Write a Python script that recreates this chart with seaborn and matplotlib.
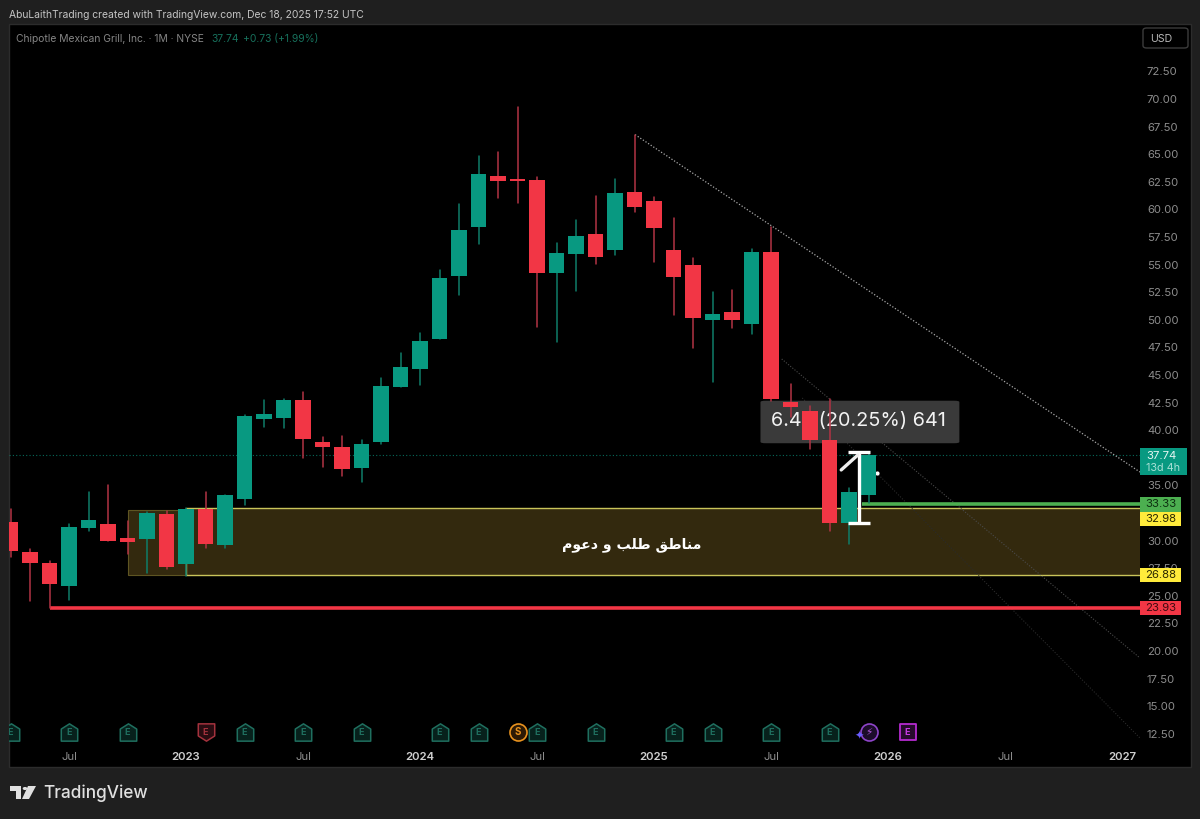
import numpy as np
import pandas as pd
import matplotlib.pyplot as plt
from matplotlib.patches import Rectangle, FancyBboxPatch, Polygon, Circle
from matplotlib.path import Path
import seaborn as sns

# monthly candles, month 0 = Jan 2022
months = list(range(3, 48))
opens = [31.68, 28.97, 27.95, 25.92, 31.12, 31.5, 30.24, 30.12, 32.41, 27.91, 32.86, 29.57,
         33.8, 41.01, 41.1, 42.74, 38.93, 38.51, 36.55, 38.93, 43.91, 45.52, 48.23, 53.94,
         58.38, 63.03, 62.75, 62.69, 54.24, 55.96, 57.74, 56.3, 61.55, 60.76, 56.32, 55.0,
         49.96, 50.68, 49.62, 56.14, 42.58, 41.74, 39.11, 31.57, 34.13]
highs = [32.86, 29.24, 28.18, 31.47, 34.43, 35.04, 31.78, 32.62, 32.71, 32.95, 34.43, 34.1,
         41.35, 42.74, 42.85, 43.46, 39.41, 39.47, 39.11, 44.76, 46.97, 48.79, 54.51, 60.49,
         64.84, 65.2, 69.3, 62.96, 56.98, 59.04, 61.24, 62.75, 66.77, 61.15, 59.19, 55.63,
         52.49, 52.67, 56.44, 58.38, 44.18, 42.2, 42.8, 34.74, 37.9]
lows = [28.51, 24.53, 23.93, 24.62, 30.9, 29.96, 28.76, 27.1, 27.4, 26.82, 29.3, 29.36,
        33.22, 40.26, 40.17, 37.45, 36.7, 35.85, 35.34, 38.75, 43.91, 44.07, 48.23, 52.25,
        56.87, 61.06, 60.58, 49.38, 47.96, 52.61, 55.03, 55.87, 59.76, 55.26, 50.46, 47.47,
        44.39, 49.26, 48.69, 42.6, 41.22, 38.3, 30.9, 29.72, 33.38]
closes = [29.06, 27.97, 26.05, 31.2, 31.87, 29.96, 29.9, 32.47, 27.64, 32.83, 29.72, 34.1,
          41.31, 41.47, 42.74, 39.18, 38.48, 36.51, 38.78, 44.0, 45.7, 48.11, 53.76, 58.11,
          63.21, 62.55, 62.6, 54.27, 56.05, 57.59, 55.72, 61.51, 60.24, 58.32, 53.91, 50.14,
          50.5, 50.0, 56.14, 42.83, 42.08, 39.11, 31.6, 34.43, 37.74]

# 32.50 and 37.50 sit behind the price tags in the reference
price_ticks = [12.5, 15, 17.5, 20, 22.5, 25, 27.5, 30, 35, 40, 42.5, 45, 47.5,
               50, 52.5, 55, 57.5, 60, 62.5, 65, 67.5, 70, 72.5]
time_ticks = [6, 12, 18, 24, 30, 36, 42, 48, 54, 60]
time_labels = ['Jul', '2023', 'Jul', '2024', 'Jul', '2025', 'Jul', '2026', 'Jul', '2027']

last_price = 37.74
zone_top, zone_bottom = 32.98, 26.88
zone_outer_top, zone_outer_bottom = 32.8, 26.85
green_level, red_level = 33.33, 23.93
measure_low, measure_high = 31.59, 38.06

earnings_up = [3, 6, 9, 15, 18, 21, 25, 27, 30, 33, 37, 39, 42, 45]
earnings_down = [13]
event_level = 12.7

GREEN = '#089981'
RED = '#f23645'
BG = '#1f1f1f'
GREY = '#8c8c8c'

sns.set_theme(style='dark')
plt.rcParams['font.family'] = ['Inter', 'DejaVu Sans']

df = pd.DataFrame({'month': months, 'open': opens, 'high': highs, 'low': lows, 'close': closes})
df['body_low'] = df[['open', 'close']].min(axis=1)
df['height'] = (df['close'] - df['open']).abs()
up = df[df['close'] >= df['open']]
down = df[df['close'] < df['open']]

fig = plt.figure(figsize=(12, 8.19), dpi=100, facecolor=BG)
fig.add_artist(Rectangle((9 / 1200, 1 - 767 / 819), 1182 / 1200, 743 / 819, transform=fig.transFigure,
                         fc='black', ec='#2c2c2c', lw=1, zorder=-5))
ax = fig.add_axes([9 / 1200, 1 - 745 / 819, 1131 / 1200, 721 / 819], facecolor='none')

# zone behind the candles
zone_fill = '#33290e'
ax.add_patch(Rectangle((9, zone_outer_bottom), 3.2, zone_outer_top - zone_outer_bottom,
                       fc=zone_fill, ec='#5e5522', lw=0.8, zorder=1))
ax.add_patch(Rectangle((12, zone_bottom), 60, zone_top - zone_bottom,
                       fc=zone_fill, ec='#c9c45a', lw=1, zorder=1.2))

ax.axhline(last_price, color=GREEN, lw=0.8, ls=(0, (1, 2)), alpha=0.7, zorder=1.5)
ax.plot([5, 62], [red_level, red_level], color=RED, lw=2.6, solid_capstyle='butt', zorder=3)
ax.plot([46.65, 62], [green_level, green_level], color='#4caf50', lw=2.6, solid_capstyle='butt', zorder=3)

# trend lines
ax.plot([35.03, 60.92], [66.77, 36.21], color='#a8a8a8', lw=0.9, ls=(0, (1, 1.5)), zorder=2)
ax.plot([42.55, 60.92], [46.45, 19.37], color='#4a4a4a', lw=0.8, ls=(0, (1, 1.5)), zorder=2)
ax.plot([43.6, 60.92], [42.92, 12.12], color='#2a2a2a', lw=0.8, ls=(0, (1, 1.5)), zorder=2)

# measure label sits under the candles
ax.add_patch(FancyBboxPatch((41.46, 38.82), 10.2, 3.85, boxstyle='round,pad=0,rounding_size=0.25',
                            fc='#3a3a3a', ec='none', mutation_aspect=0.5, zorder=2.5))
ax.text(42.0, 40.8, '6.47 (20.25%) 641', color='#f2f2f2', fontsize=14.3, va='center', ha='left', zorder=2.6)

# wicks, then bodies
for part, colour in ((up, '#0f7d69'), (down, '#b23344')):
    wicks = pd.concat([part[['month', 'high']].rename(columns={'high': 'price'}),
                       part[['month', 'low']].rename(columns={'low': 'price'})])
    wicks['candle'] = wicks['month']
    sns.lineplot(data=wicks, x='month', y='price', units='candle', estimator=None, sort=False,
                 color=colour, lw=1.1, legend=False, ax=ax, zorder=3.5)
for part, colour in ((up, GREEN), (down, RED)):
    sns.barplot(data=part, x='month', y='height', bottom=part['body_low'].values, native_scale=True,
                width=0.8, color=colour, saturation=1, errorbar=None, ax=ax, zorder=4, linewidth=0)

# measure tool
white = dict(color='white', solid_capstyle='butt', zorder=5)
ax.plot([46.5, 46.5], [measure_low, measure_high], lw=2.4, **white)
ax.plot([45.95, 47.1], [measure_low, measure_low], lw=2.4, **white)
ax.plot([45.95, 47.1], [measure_high, measure_high], lw=2.4, **white)
ax.plot([45.6, 46.45], [36.4, 37.75], lw=2.4, color='#eeeeee', solid_capstyle='round', zorder=5)
ax.plot([47.45], [36.1], 'o', ms=2, color='white', zorder=3)

# arabic label: presentation forms in visual order, matplotlib does no shaping
zone_label = '\ufee3\ufee8\ufe8e\ufec3\ufed6 \ufec3\ufee0\ufe90 \ufeed \ufea9\ufecb\ufeee\ufee1'
ax.text(34.85, 29.6, zone_label[::-1], color='white', fontsize=10.2, fontweight='bold',
        family='DejaVu Sans', ha='center', va='center', zorder=5)

# event pins
pin_up = Path([(-0.95, -1), (0.95, -1), (0.95, 0.4), (0, 1), (-0.95, 0.4), (-0.95, -1)], closed=True)
pin_down = Path([(-0.95, 1), (0.95, 1), (0.95, -0.4), (0, -1), (-0.95, -0.4), (-0.95, 1)], closed=True)
for xs, shape, colour, face in ((earnings_up, pin_up, '#1f6f5f', '#07211c'),
                                (earnings_down, pin_down, '#a4323d', '#2a0c11')):
    ax.scatter(xs, [event_level] * len(xs), marker=shape, s=155, facecolors=face,
               edgecolors=colour, linewidths=1.1, zorder=6)
    for m in xs:
        ax.text(m, event_level - 0.05, 'E', color=colour, fontsize=6.5, ha='center', va='center',
                fontweight='bold', zorder=6, clip_on=True)
ax.scatter([29], [event_level], marker='o', s=150, facecolors='#2c1a05', edgecolors='#e8921e', linewidths=1.2, zorder=6)
ax.text(29, event_level - 0.05, 'S', color='#e8921e', fontsize=7, ha='center', va='center', fontweight='bold', zorder=6)
ax.scatter([47], [event_level], marker='o', s=150, facecolors='#1c0c2a', edgecolors='#8e44c9', linewidths=1.2, zorder=6)
ax.text(47, event_level - 0.05, '\u26a1', color='#b45be0', fontsize=7.5, ha='center', va='center',
        family='DejaVu Sans', zorder=6)
ax.text(46.5, event_level - 0.35, '\u2726', color='#6a5cff', fontsize=8, ha='center', va='center',
        family='DejaVu Sans', zorder=7)
ax.scatter([49], [event_level], marker='s', s=133, facecolors='#260a2c', edgecolors='#b52bd0', linewidths=1.3, zorder=6)
ax.text(49, event_level - 0.05, 'E', color='#c93ae5', fontsize=6.5, ha='center', va='center', fontweight='bold', zorder=6)

ax.set_xlim(2.923, 60.923)
ax.set_ylim(70 - (745 - 99) / 11.04, 70 + (99 - 24) / 11.04)
ax.set_xlabel('')
ax.set_ylabel('')
ax.grid(False)
for side in ax.spines:
    ax.spines[side].set_visible(False)
ax.yaxis.tick_right()
ax.set_yticks(price_ticks)
ax.set_yticklabels(['{:.2f}'.format(p) for p in price_ticks])
ax.tick_params(axis='y', length=0, pad=5, labelsize=8.2, labelcolor=GREY)
ax.set_xticks(time_ticks)
ax.set_xticklabels(time_labels)
ax.tick_params(axis='x', length=0, pad=5, labelsize=8.2, labelcolor=GREY)
for label in ax.get_xticklabels():
    if label.get_text() != 'Jul':
        label.set_color('#d0d0d0')
        label.set_fontweight('semibold')

# price tags on the axis, 32.98 is pushed down below the 33.33 tag
trans = ax.get_yaxis_transform()
tag_w = 41 / 1131
tag_h = 14.5 / 11.04
for value, centre, colour, text_colour in ((green_level, 33.28, '#4caf50', '#0d2f10'),
                                           (zone_top, 31.96, '#ffeb3b', '#2a2800'),
                                           (zone_bottom, zone_bottom, '#ffeb3b', '#2a2800'),
                                           (red_level, 23.88, RED, '#3d0a10')):
    ax.add_patch(FancyBboxPatch((1, centre - tag_h / 2), tag_w, tag_h, transform=trans,
                                boxstyle='square,pad=0', fc=colour, ec='none', clip_on=False, zorder=10))
    ax.text(1 + 21 / 1131, centre, '{:.2f}'.format(value), transform=trans, ha='center', va='center',
            fontsize=8.2, color=text_colour, zorder=11, clip_on=False)
ax.add_patch(Rectangle((1, last_price - 1.82), 47 / 1131, 2.45, transform=trans, fc=GREEN, ec='none',
                       clip_on=False, zorder=10))
ax.text(1 + 21 / 1131, last_price - 0.08, '37.74', transform=trans, ha='center', va='center',
        fontsize=8.2, color='#e6f5f2', zorder=11)
ax.text(1 + 23 / 1131, last_price - 1.15, '13d 4h', transform=trans, ha='center', va='center',
        fontsize=7.8, color='#a8e0d5', zorder=11)

# header, legend, currency box, logo
fig.text(9 / 1200, 1 - 15 / 819, 'AbuLaithTrading created with TradingView.com, Dec 18, 2025 17:52 UTC',
         color='#c4c4c4', fontsize=7.45, va='center')
fig.text(16 / 1200, 1 - 39 / 819, 'Chipotle Mexican Grill, Inc. \u00b7 1M \u00b7 NYSE', color='#858585',
         fontsize=7.45, va='center')
fig.text(211 / 1200, 1 - 39 / 819, '37.74', color='#17705c', fontsize=7.45, va='center')
fig.text(243 / 1200, 1 - 39 / 819, '+0.73 (+1.99%)', color='#17705c', fontsize=7.45, va='center')
fig.add_artist(FancyBboxPatch((1143 / 1200, 1 - 48 / 819), 45 / 1200, 20 / 819, transform=fig.transFigure,
                              boxstyle='round,pad=0,rounding_size=0.003', fc='black', ec='#3c3c3c', lw=1))
fig.text(1161 / 1200, 1 - 38.5 / 819, 'USD', color='#b8b8b8', fontsize=7.6, va='center', ha='center')

logo_pts = [[(10, 786), (21, 786), (21, 799), (16, 799), (16, 791), (10, 791)],
            [(28, 786), (36, 786), (29, 799), (22, 799)]]
for pts in logo_pts:
    fig.add_artist(Polygon([(x / 1200, 1 - y / 819) for x, y in pts], transform=fig.transFigure,
                           fc='#e0e0e0', ec='none'))
fig.add_artist(Circle((25 / 1200, 1 - 788.5 / 819), 2.3 / 1200, transform=fig.transFigure, fc='#e0e0e0', ec='none'))
fig.text(43 / 1200, 1 - 793 / 819, 'TradingView', color='#e0e0e0', fontsize=12.4, fontweight='medium', va='center')

fig.savefig('out.png', dpi=100, facecolor=fig.get_facecolor())
